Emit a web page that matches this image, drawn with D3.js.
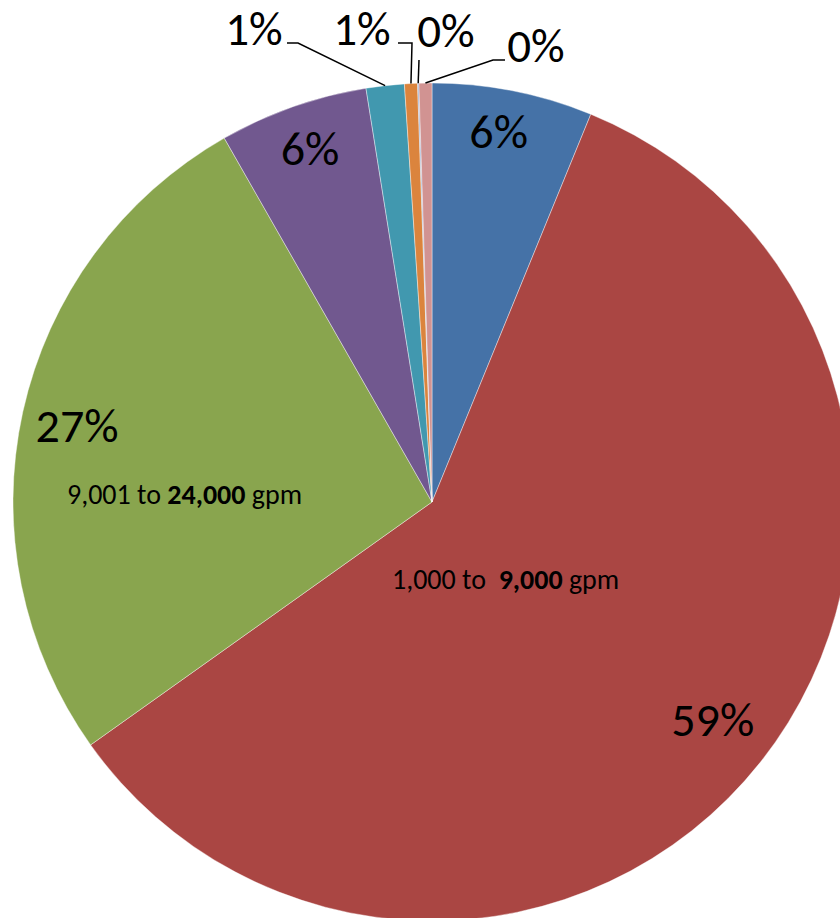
<!DOCTYPE html>
<html><head><meta charset="utf-8">
<script src="https://cdn.jsdelivr.net/npm/d3@7"></script>
<style>html,body{margin:0;padding:0;background:#fff;overflow:hidden}</style>
</head><body>
<svg id="c" width="840" height="918"></svg>
<script>
// ---- data ----
const categories = ["< 1,000 gpm","1,000 to 9,000 gpm","9,001 to 24,000 gpm","24,001 to 50,000 gpm","50,001 to 100,000 gpm","100,001 to 200,000 gpm","200,001 to 500,000 gpm","> 500,000 gpm"];
const values = [6.19, 59.0, 26.6, 5.74, 1.47, 0.5, 0.05, 0.5];
const pctLabels = ["6%","59%","27%","6%","1%","1%","0%","0%"];
const colors = ["#4572A7","#AA4643","#89A54E","#71588F","#4198AF","#DB843D","#93A9CF","#D19392"];

// ---- layout ----
const cx = 432, cy = 502, R = 419;
const FONT = "Carlito, Calibri, Lato, 'Open Sans', sans-serif";
const svg = d3.select("#c");
const g = svg.append("g").attr("transform", `translate(${cx},${cy})`);

const pie = d3.pie().sort(null).value(d => d)(values);
const arc = d3.arc().innerRadius(0).outerRadius(R);
const labelArc = d3.arc().innerRadius(366).outerRadius(366);

g.selectAll("path.slice").data(pie).enter().append("path")
  .attr("class","slice")
  .attr("d", arc)
  .attr("fill", (d,i) => colors[i])
  .attr("stroke", "#ffffff").attr("stroke-opacity", 0.5).attr("stroke-width", 0.8);

// inside percentage labels (slices 0..3) with small nudges
const inside = [
  {i:0, dx:-4, dy:5},
  {i:1, dx:-6, dy:7},
  {i:2, dx:2.5, dy:18.5},
  {i:3, dx:-0.5, dy:8.5}
];
g.selectAll("text.pin").data(inside).enter().append("text")
  .attr("class","pin")
  .attr("x", o => labelArc.centroid(pie[o.i])[0] + o.dx)
  .attr("y", o => labelArc.centroid(pie[o.i])[1] + o.dy)
  .attr("text-anchor","middle")
  .attr("font-family", FONT).attr("font-size", 48)
  .attr("fill","#000")
  .text(o => pctLabels[o.i]);

// outside labels with leader lines (slices 4..7)
const outside = [
  {i:4, tx:254, ty:45, pts:[[287,43],[298,43]]},
  {i:5, tx:362, ty:45, pts:[[398,43],[412,43]]},
  {i:6, tx:446, ty:47, pts:[[419,60]]},
  {i:7, tx:536, ty:62, pts:[[505,60],[493,60]]}
];
outside.forEach(o => {
  const a = (pie[o.i].startAngle + pie[o.i].endAngle) / 2;
  const ex = cx + Math.sin(a) * R, ey = cy - Math.cos(a) * R;
  svg.append("path")
    .attr("d", d3.line()(o.pts.concat([[ex, ey]])))
    .attr("fill","none").attr("stroke","#000").attr("stroke-width",1.5);
  svg.append("text")
    .attr("x", o.tx).attr("y", o.ty)
    .attr("text-anchor","middle")
    .attr("font-family", FONT).attr("font-size", 47)
    .attr("fill","#000")
    .text(pctLabels[o.i]);
});

// category labels with bold upper bound
function catLabel(x, y, parts) {
  const t = svg.append("text").attr("x", x).attr("y", y)
    .attr("font-family", FONT).attr("font-size", 28).attr("fill","#000")
    .attr("xml:space","preserve");
  parts.forEach(p => t.append("tspan").attr("font-weight", p[1] ? "bold" : "normal").text(p[0]));
}
catLabel(67, 504, [["9,001 to ",false],["24,000",true],[" gpm",false]]);
catLabel(392, 589, [["1,000 to  ",false],["9,000",true],[" gpm",false]]);
</script>
</body></html>
